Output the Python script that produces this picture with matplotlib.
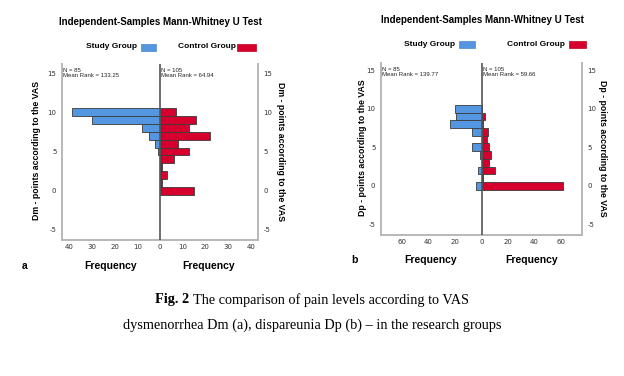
import matplotlib
matplotlib.use("Agg")
import matplotlib.pyplot as plt
from matplotlib.patches import Rectangle

plt.rcParams["axes.unicode_minus"] = False

# ---- data ----
scores = [0, 1, 2, 3, 4, 5, 6, 7, 8, 9, 10]
dm_study = [0, 0, 0, 0, 0, 1, 2, 5, 8, 30, 39]
dm_control = [15, 1, 3, 1, 6, 13, 8, 22, 13, 16, 7]
dp_study = [4, 0, 3, 0, 1, 7, 0, 7, 24, 19, 20]
dp_control = [62, 1, 10, 6, 7, 6, 4, 5, 1, 3, 0]

panels = [
    dict(study=dm_study, control=dm_control, xlim=43.2, xticks=[40, 30, 20, 10, 0],
         ylim=(-6.28, 16.15), ylabel="Dm - points according to the VAS",
         n_study="N = 85", mr_study="Mean Rank = 133.25",
         n_control="N = 105", mr_control="Mean Rank = 64.94", letter="a"),
    dict(study=dp_study, control=dp_control, xlim=76, xticks=[60, 40, 20, 0],
         ylim=(-6.39, 15.95), ylabel="Dp - points according to the VAS",
         n_study="N = 85", mr_study="Mean Rank = 139.77",
         n_control="N = 105", mr_control="Mean Rank = 59.66", letter="b"),
]

W, H = 624, 376
BLUE = "#5596e0"
RED = "#d5002d"
SPINE = "#b8b8b8"
SANS = "Liberation Sans"
SERIF = "Liberation Serif"

fig = plt.figure(figsize=(W / 100, H / 100), dpi=100)
fig.patch.set_facecolor("white")

def fx(x):
    return x / W

def fy(y):
    return 1 - y / H

layout = [
    dict(left=62, right=258, top=64, bottom=240, title=(160, 22),
         leg_study=(137, 47), leg_study_patch=(141, 156), leg_ctrl=(236, 47), leg_ctrl_patch=(236, 256),
         ylab_l=(37, 150), ylab_r=(281, 152), freq_y=266, freq_x=(111, 209), letter=(25, 266)),
    dict(left=381, right=582, top=63, bottom=235, title=(482, 20),
         leg_study=(455, 44), leg_study_patch=(459, 475), leg_ctrl=(565, 44), leg_ctrl_patch=(568, 586),
         ylab_l=(362, 148), ylab_r=(602, 148), freq_y=260, freq_x=(431, 532), letter=(354, 260)),
]

for p, L in zip(panels, layout):
    ax = fig.add_axes([fx(L["left"]), fy(L["bottom"]),
                       fx(L["right"] - L["left"]), (L["bottom"] - L["top"]) / H])
    ax.barh(scores, [-v for v in p["study"]], height=1.0, color=BLUE,
            edgecolor="#3a3a3a", linewidth=0.6, zorder=2)
    ax.barh(scores, p["control"], height=1.0, color=RED,
            edgecolor="#3a3a3a", linewidth=0.6, zorder=2)
    ax.axvline(0, color="#555555", linewidth=1.2, zorder=3)
    ax.set_xlim(-p["xlim"], p["xlim"])
    ax.set_ylim(*p["ylim"])
    xt = p["xticks"]
    ticks = [-t for t in xt] + [t for t in xt[::-1][1:]]
    ax.set_xticks(ticks)
    ax.set_xticklabels([str(abs(t)) for t in ticks])
    ax.set_yticks([-5, 0, 5, 10, 15])
    ax.tick_params(axis="both", length=0, labelsize=5, colors="#333333", pad=3)
    ax.tick_params(axis="y", labelright=True, right=False, pad=4)
    for s in ["left", "right", "bottom"]:
        ax.spines[s].set_color(SPINE)
        ax.spines[s].set_linewidth(1.4)
    ax.spines["top"].set_visible(False)

    ax.text(0.005, 0.975, p["n_study"] + "\n" + p["mr_study"], transform=ax.transAxes,
            ha="left", va="top", fontsize=4.3, family=SANS, linespacing=1.0, color="#222222")
    ax.text(0.505, 0.975, p["n_control"] + "\n" + p["mr_control"], transform=ax.transAxes,
            ha="left", va="top", fontsize=4.3, family=SANS, linespacing=1.0, color="#222222")

    fig.text(fx(L["title"][0]), fy(L["title"][1]), "Independent-Samples Mann-Whitney U Test",
             ha="center", va="center", fontsize=7, fontweight="bold", family=SANS)
    fig.text(fx(L["leg_study"][0]), fy(L["leg_study"][1]), "Study Group",
             ha="right", va="center", fontsize=6, fontweight="bold", family=SANS)
    x0, x1 = L["leg_study_patch"]
    fig.patches.append(Rectangle((fx(x0), fy(L["leg_study"][1] + 3.5)), fx(x1 - x0), 7 / H,
                                 transform=fig.transFigure, facecolor=BLUE, edgecolor="#4a86c8", linewidth=0.5))
    fig.text(fx(L["leg_ctrl"][0]), fy(L["leg_ctrl"][1]), "Control Group",
             ha="right", va="center", fontsize=6, fontweight="bold", family=SANS)
    x0, x1 = L["leg_ctrl_patch"]
    fig.patches.append(Rectangle((fx(x0 + 1), fy(L["leg_ctrl"][1] + 3.5)), fx(x1 - x0 - 1), 7 / H,
                                 transform=fig.transFigure, facecolor=RED, edgecolor="#c00020", linewidth=0.5))

    fig.text(fx(L["ylab_l"][0]), fy(L["ylab_l"][1]), p["ylabel"], rotation=90,
             ha="center", va="center", fontsize=6.3, fontweight="bold", family=SANS)
    fig.text(fx(L["ylab_r"][0]), fy(L["ylab_r"][1]), p["ylabel"], rotation=-90,
             ha="center", va="center", fontsize=6.3, fontweight="bold", family=SANS)
    for xf in L["freq_x"]:
        fig.text(fx(xf), fy(L["freq_y"]), "Frequency", ha="center", va="center",
                 fontsize=7.5, fontweight="bold", family=SANS)
    fig.text(fx(L["letter"][0]), fy(L["letter"][1]), p["letter"], ha="center", va="center",
             fontsize=7.5, fontweight="bold", family=SANS)

# caption: bold "Fig. 2" followed by regular text, centered as a whole
renderer = fig.canvas.get_renderer()
cap_size = 10.3
bold_part = "Fig. 2 "
rest_part = "The comparison of pain levels according to VAS"
tb = fig.text(0, fy(300), bold_part, ha="left", va="center", fontsize=cap_size,
              fontweight="bold", family=SERIF)
tr = fig.text(0, fy(300), rest_part, ha="left", va="center", fontsize=cap_size, family=SERIF)
wb = tb.get_window_extent(renderer).width
wr = tr.get_window_extent(renderer).width
start = (W - (wb + wr)) / 2
tb.set_x(fx(start))
tr.set_x(fx(start + wb))
fig.text(0.5, fy(325), "dysmenorrhea Dm (a), dispareunia Dp (b) \u2013 in the research groups",
         ha="center", va="center", fontsize=cap_size, family=SERIF)

fig.savefig("out.png", dpi=100, facecolor="white")
